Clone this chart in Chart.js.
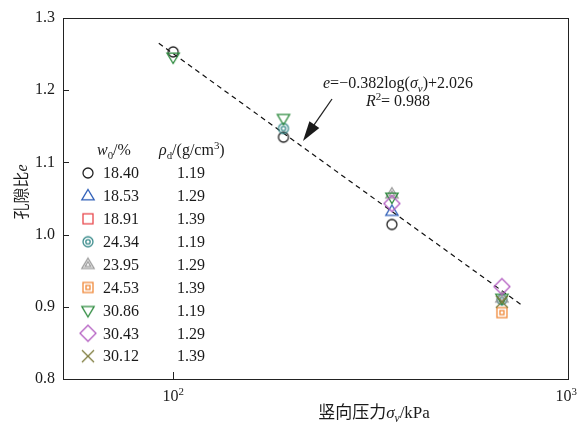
<!DOCTYPE html>
<html>
<head>
<meta charset="utf-8">
<script src="https://cdn.jsdelivr.net/npm/chart.js@4.4.1/dist/chart.umd.min.js"></script>
<style>
  body { margin: 0; background: #fff; }
  canvas { display: block; }
</style>
</head>
<body>
<canvas id="myChart" width="578" height="427"></canvas>
<script>
// vertical pressure (kPa) of each loading step
const pressure = [100, 190, 357, 677];

// legend columns
const w0 = ['18.40', '18.53', '18.91', '24.34', '23.95', '24.53', '30.86', '30.43', '30.12'];
const rhoD = ['1.19', '1.29', '1.39', '1.19', '1.29', '1.39', '1.19', '1.29', '1.39'];

// x tick labels
const xTicks = [100, 1000];
const xTickLabels = ['10²', '10³'];

// void ratio e for each sample (null = not visible in the figure)
const e1840 = [1.253, 1.135, 1.014, null];
const e1853 = [null, null, 1.032, null];
const e1891 = [null, null, null, null];
const e2434 = [null, 1.147, null, 0.910];
const e2395 = [null, null, 1.056, 0.912];
const e2453 = [null, null, null, 0.892];
const e3086 = [1.246, 1.161, 1.052, 0.912];
const e3043 = [null, null, 1.043, 0.928];
const e3012 = [null, null, null, 0.907];

// fitted line end points
const fitX = [92, 766];
const fitE = [1.265, 0.901];

const serif = '"Liberation Serif", "Noto Sans CJK SC", serif';
const txt = '#1a1a1a';

// marker pictures, used for points and legend alike
function makeMarker(kind, color) {
    const c = document.createElement('canvas');
    c.width = 20; c.height = 20;
    const g = c.getContext('2d');
    g.strokeStyle = color;
    g.fillStyle = color;
    g.lineWidth = 1.3;
    const m = 10;
    const tri = (s, dir) => {
        g.beginPath();
        g.moveTo(m, m - dir * s);
        g.lineTo(m + s * 0.95, m + dir * s * 0.6);
        g.lineTo(m - s * 0.95, m + dir * s * 0.6);
        g.closePath();
        g.stroke();
    };
    if (kind === 'circle') {
        g.beginPath(); g.arc(m, m, 5, 0, 2 * Math.PI); g.stroke();
    } else if (kind === 'target') {
        g.beginPath(); g.arc(m, m, 5, 0, 2 * Math.PI); g.stroke();
        g.beginPath(); g.arc(m, m, 2.2, 0, 2 * Math.PI); g.stroke();
    } else if (kind === 'tri') {
        tri(6.5, 1);
    } else if (kind === 'triIn') {
        tri(6.5, 1); tri(3, 1);
    } else if (kind === 'triDown') {
        tri(6.5, -1);
    } else if (kind === 'square') {
        g.strokeRect(m - 5, m - 5, 10, 10);
    } else if (kind === 'squareIn') {
        g.strokeRect(m - 5, m - 5, 10, 10);
        g.strokeRect(m - 2, m - 2, 4, 4);
    } else if (kind === 'diamond') {
        g.beginPath();
        g.moveTo(m, m - 8); g.lineTo(m + 8, m); g.lineTo(m, m + 8); g.lineTo(m - 8, m);
        g.closePath(); g.stroke();
    } else if (kind === 'cross') {
        g.beginPath();
        g.moveTo(m - 6, m - 6); g.lineTo(m + 6, m + 6);
        g.moveTo(m + 6, m - 6); g.lineTo(m - 6, m + 6);
        g.stroke();
    }
    return c;
}

const series = [
    { e: e1840, kind: 'circle', color: '#222222' },
    { e: e1853, kind: 'tri', color: '#2f5fb8' },
    { e: e1891, kind: 'square', color: '#e8484c' },
    { e: e2434, kind: 'target', color: '#3b8c8c' },
    { e: e2395, kind: 'triIn', color: '#9c9c9c' },
    { e: e2453, kind: 'squareIn', color: '#f0893a' },
    { e: e3086, kind: 'triDown', color: '#2e8b3f' },
    { e: e3043, kind: 'diamond', color: '#b45fc2' },
    { e: e3012, kind: 'cross', color: '#7d7b3c' }
];
series.forEach(s => s.img = makeMarker(s.kind, s.color));

// later samples are drawn on top of earlier ones
const datasets = series.map((s, i) => ({
    label: w0[i],
    data: pressure.map((p, k) => s.e[k] === null ? null : { x: p, y: s.e[k] }).filter(d => d),
    pointStyle: s.img,
    pointRadius: 8,
    showLine: false,
    order: series.length - i
}));
datasets.push({
    label: 'fit',
    data: fitX.map((x, k) => ({ x: x, y: fitE[k] })),
    showLine: true,
    borderColor: '#111',
    borderWidth: 1.2,
    borderDash: [5, 4],
    pointRadius: 0,
    order: series.length + 1
});

// text with italic / sub / sup pieces
function richWidth(ctx, parts, size) {
    let w = 0;
    parts.forEach(p => {
        const fs = (p.sub || p.sup) ? size * 0.68 : size;
        ctx.font = (p.i ? 'italic ' : '') + fs + 'px ' + serif;
        w += ctx.measureText(p.t).width;
    });
    return w;
}
function drawRich(ctx, parts, x, y, size, align) {
    let cx = x;
    const w = richWidth(ctx, parts, size);
    if (align === 'center') cx = x - w / 2;
    ctx.textAlign = 'left';
    ctx.textBaseline = 'alphabetic';
    parts.forEach(p => {
        const fs = (p.sub || p.sup) ? size * 0.68 : size;
        ctx.font = (p.i ? 'italic ' : '') + fs + 'px ' + serif;
        let dy = 0;
        if (p.sub) dy = size * 0.25;
        if (p.sup) dy = -size * 0.4;
        ctx.fillText(p.t, cx, y + dy);
        cx += ctx.measureText(p.t).width;
    });
}

const decor = {
    id: 'decor',
    afterDraw(chart) {
        const { ctx, chartArea: a, scales: { x, y } } = chart;
        ctx.save();
        ctx.strokeStyle = '#222';
        ctx.fillStyle = txt;
        ctx.lineWidth = 1;
        ctx.strokeRect(a.left + 0.5, a.top + 0.5, a.right - a.left - 1, a.bottom - a.top);

        // inward ticks
        ctx.beginPath();
        [0.9, 1.0, 1.1, 1.2].forEach(v => {
            const py = Math.round(y.getPixelForValue(v)) + 0.5;
            ctx.moveTo(a.left, py); ctx.lineTo(a.left + 6, py);
        });
        const px = Math.round(x.getPixelForValue(100)) + 0.5;
        ctx.moveTo(px, a.bottom); ctx.lineTo(px, a.bottom - 7);
        ctx.stroke();

        // x tick labels, kept inside the canvas
        xTicks.forEach((v, k) => {
            const parts = [{ t: '10' }, { t: xTickLabels[k].slice(2) === '²' ? '2' : '3', sup: 1 }];
            const w = richWidth(ctx, parts, 16);
            const cxp = Math.min(x.getPixelForValue(v), chart.width - w / 2 - 1);
            drawRich(ctx, parts, cxp, a.bottom + 22, 16, 'center');
        });

        // axis titles
        drawRich(ctx, [{ t: '竖向压力' }, { t: 'σ', i: 1 }, { t: 'v', sub: 1, i: 1 }, { t: '/kPa' }], 374, 418, 17, 'center');
        ctx.save();
        ctx.translate(27, 192);
        ctx.rotate(-Math.PI / 2);
        drawRich(ctx, [{ t: '孔隙比' }, { t: 'e', i: 1 }], 0, 0, 16, 'center');
        ctx.restore();

        // fit equation and arrow
        drawRich(ctx, [{ t: 'e', i: 1 }, { t: '=−0.382log(' }, { t: 'σ', i: 1 }, { t: 'v', sub: 1, i: 1 }, { t: ')+2.026' }], 398, 88, 16, 'center');
        drawRich(ctx, [{ t: 'R', i: 1 }, { t: '2', sup: 1 }, { t: '= 0.988' }], 398, 106, 16, 'center');
        const ax0 = 332, ay0 = 99, ax1 = 303, ay1 = 141;
        const ang = Math.atan2(ay1 - ay0, ax1 - ax0);
        ctx.lineWidth = 1.3;
        ctx.beginPath(); ctx.moveTo(ax0, ay0);
        ctx.lineTo(ax1 - 14 * Math.cos(ang), ay1 - 14 * Math.sin(ang)); ctx.stroke();
        ctx.beginPath();
        ctx.moveTo(ax1, ay1);
        ctx.lineTo(ax1 - 20 * Math.cos(ang) + 6 * Math.sin(ang), ay1 - 20 * Math.sin(ang) - 6 * Math.cos(ang));
        ctx.lineTo(ax1 - 20 * Math.cos(ang) - 6 * Math.sin(ang), ay1 - 20 * Math.sin(ang) + 6 * Math.cos(ang));
        ctx.closePath(); ctx.fill();

        // legend table
        drawRich(ctx, [{ t: 'w', i: 1 }, { t: '0', sub: 1 }, { t: '/%' }], 97, 155, 16, 'left');
        drawRich(ctx, [{ t: 'ρ', i: 1 }, { t: 'd', sub: 1 }, { t: '/(g/cm' }, { t: '3', sup: 1 }, { t: ')' }], 159, 155, 16, 'left');
        ctx.font = '16px ' + serif;
        ctx.textBaseline = 'middle';
        series.forEach((s, i) => {
            const ry = 173 + i * 22.9;
            ctx.drawImage(s.img, 78, ry - 10);
            ctx.fillText(w0[i], 103, ry + 1);
            ctx.fillText(rhoD[i], 177, ry + 1);
        });
        ctx.restore();
    }
};

const ctx = document.getElementById('myChart').getContext('2d');
const myChart = new Chart(ctx, {
    type: 'scatter',
    data: { datasets: datasets },
    options: {
        responsive: false,
        animation: false,
        layout: { padding: { left: 0, right: 9, top: 18, bottom: 0 } },
        plugins: {
            legend: { display: false },
            tooltip: { enabled: false }
        },
        scales: {
            x: {
                type: 'logarithmic',
                min: 52.7,
                max: 1000,
                grid: { display: false, drawTicks: false },
                border: { display: false },
                afterBuildTicks: s => { s.ticks = xTicks.map(v => ({ value: v })); },
                afterFit: s => { s.height = 48; s.paddingLeft = 0; s.paddingRight = 0; },
                ticks: { display: false }
            },
            y: {
                min: 0.8,
                max: 1.3,
                grid: { display: false, drawTicks: false },
                border: { display: false },
                afterFit: s => { s.width = 63; s.paddingTop = 0; s.paddingBottom = 0; },
                ticks: {
                    stepSize: 0.1,
                    padding: 8,
                    color: txt,
                    font: { family: serif, size: 16 },
                    callback: v => v.toFixed(1)
                }
            }
        }
    },
    plugins: [decor]
});
</script>
</body>
</html>
